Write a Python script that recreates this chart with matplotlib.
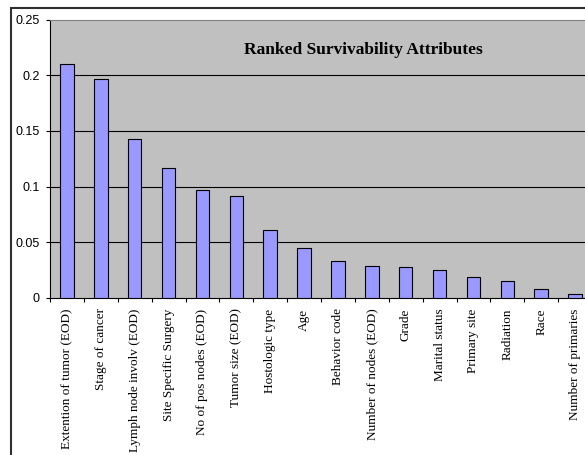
import matplotlib
matplotlib.use("Agg")
import matplotlib.pyplot as plt
from matplotlib.patches import Rectangle
import numpy as np

categories = ["Extention of tumor (EOD)", "Stage of cancer", "Lymph node involv (EOD)",
              "Site Specific Surgery", "No of pos nodes (EOD)", "Tumor size (EOD)",
              "Hostologic type", "Age", "Behavior code", "Number of nodes (EOD)",
              "Grade", "Marital status", "Primary site", "Radiation", "Race",
              "Number of primaries"]
values = [0.210, 0.197, 0.143, 0.117, 0.097, 0.092, 0.061, 0.045, 0.033, 0.029,
          0.028, 0.025, 0.019, 0.015, 0.008, 0.004]
yticks = [0, 0.05, 0.1, 0.15, 0.2, 0.25]
ytick_labels = ["0", "0.05", "0.1", "0.15", "0.2", "0.25"]
title = "Ranked Survivability Attributes"

W, H = 585, 455
fig = plt.figure(figsize=(W / 100, H / 100), dpi=100)
fig.patch.set_facecolor("white")

# outer chart border (partially cropped)
fig.add_artist(Rectangle((11 / W, -0.1), 1.2, 1 - 7.5 / H + 0.1,
                         transform=fig.transFigure, fill=False,
                         edgecolor="#303030", linewidth=1.5, zorder=0))

left, right, top, bottom = 50, 592, 19.5, 298
ax = fig.add_axes([left / W, 1 - bottom / H, (right - left) / W, (bottom - top) / H])
ax.set_facecolor("#C0C0C0")

x = np.arange(len(categories))
ax.bar(x, values, width=0.4, color="#9999FF", edgecolor="black", linewidth=0.8, zorder=3)

ax.set_xlim(-0.5, len(categories) - 0.5)
ax.set_ylim(0, 0.25)

for v in yticks[1:-1]:
    ax.axhline(v, color="black", linewidth=0.8, zorder=1)

ax.set_yticks(yticks)
ax.set_yticklabels(ytick_labels, family="Liberation Sans", fontsize=9)
ax.tick_params(axis="y", direction="out", length=3, width=0.8, pad=4.5, color="black")

ax.set_xticks(x)
ax.set_xticklabels(categories, rotation=90, family="Liberation Serif", fontsize=9.5,
                   va="top", ha="center")
ax.tick_params(axis="x", which="major", length=0, pad=7.5)
ax.set_xticks(np.arange(len(categories) + 1) - 0.5, minor=True)
ax.tick_params(axis="x", which="minor", direction="out", length=3, width=0.8, color="black")

for s in ["left", "bottom"]:
    ax.spines[s].set_color("black")
    ax.spines[s].set_linewidth(0.8)
ax.spines["top"].set_color("#808080")
ax.spines["top"].set_linewidth(0.8)
ax.spines["right"].set_color("#808080")

fig.text(363 / W, 1 - 50 / H, title, ha="center", va="center",
         family="Liberation Serif", fontweight="bold", fontsize=12.5)

fig.savefig("out.png", dpi=100)
